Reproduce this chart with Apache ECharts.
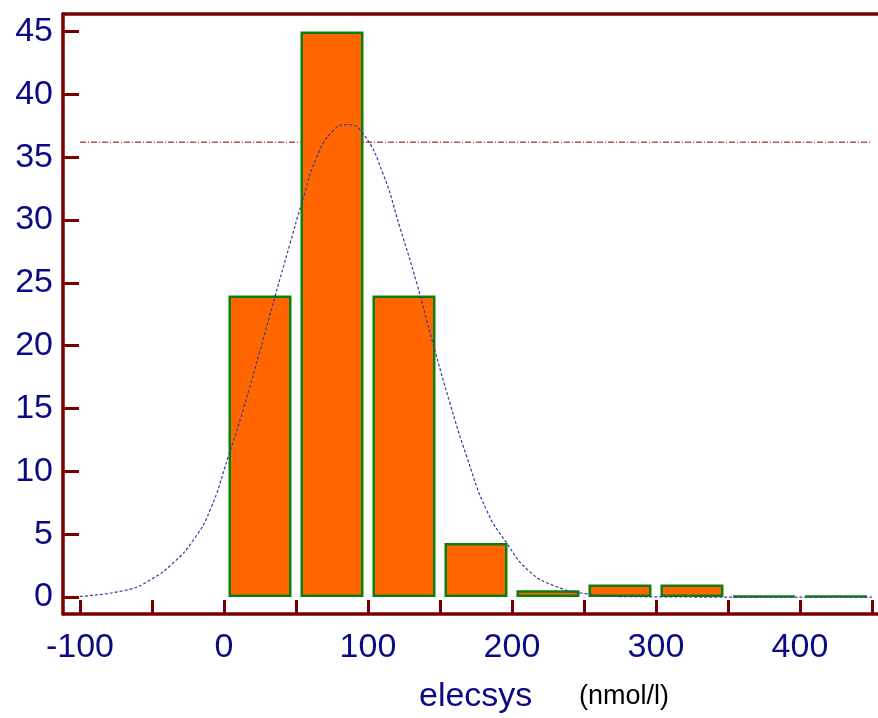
<!DOCTYPE html>
<html>
<head>
<meta charset="utf-8">
<script src="https://cdn.jsdelivr.net/npm/echarts@6/dist/echarts.min.js"></script>
<style>
  html, body { margin: 0; padding: 0; background: #fff; }
  #chart { width: 878px; height: 718px; }
</style>
</head>
<body>
<div id="chart"></div>
<script>
// histogram bins (centre of each 50-wide class) and counts
const binCentres = [25, 75, 125, 175, 225, 275, 325, 375, 425];
const binCounts = [24, 45, 24, 4.3, 0.55, 1.0, 1.0, 0.1, 0.1];

// fitted normal curve
const curveX = [-100, -67.6, -51.4, -35.4, -21.5, -9.7, 2.8, 13.3, 25, 35.4, 45.8, 53.9, 64.4, 75.7, 85.5,
  96.5, 110.4, 122.2, 133.8, 145.1, 157, 168.5, 182.4, 196.3, 212.5, 231, 249, 282, 350, 450];
const curveY = [0.05, 0.56, 1.35, 2.7, 4.5, 6.9, 11.1, 14.9, 19.6, 23.9, 28.1, 31.3, 35.0, 37.1, 37.6,
  36.9, 33.7, 29.4, 25.0, 20.2, 15.4, 11.2, 6.9, 4.3, 2.0, 0.82, 0.3, 0.03, 0, 0];

// horizontal reference line
const refX = [-100, 450];
const refY = 36.2;

// axis ticks / labels
const xTicks = [-100, -50, 0, 50, 100, 150, 200, 250, 300, 350, 400, 450];
const xLabels = [-100, 0, 100, 200, 300, 400];
const yTicks = [0, 5, 10, 15, 20, 25, 30, 35, 40, 45];

const axisColor = "#7a0000";
const textColor = "#0a0a85";
const font = "'Liberation Sans', Arial, sans-serif";

const chart = echarts.init(document.getElementById("chart"));
chart.setOption({
  animation: false,
  grid: { left: 63, right: 0, top: 14, bottom: 104 },
  xAxis: [
    {
      type: "value",
      min: -111.8,
      max: 454.2,
      splitLine: { show: false },
      axisLine: { onZero: false, lineStyle: { color: axisColor, width: 3.5 } },
      axisTick: {
        inside: true,
        length: 14,
        customValues: xTicks,
        lineStyle: { color: axisColor, width: 3 },
      },
      axisLabel: {
        customValues: xLabels,
        margin: 17,
        color: textColor,
        fontSize: 34,
        fontFamily: font,
      },
    },
    {
      type: "value",
      position: "top",
      min: -111.8,
      max: 454.2,
      splitLine: { show: false },
      axisLine: { onZero: false, lineStyle: { color: axisColor, width: 3.5 } },
      axisTick: { show: false },
      axisLabel: { show: false },
    },
  ],
  yAxis: {
    type: "value",
    min: -1.35,
    max: 46.4,
    splitLine: { show: false },
    axisLine: { onZero: false, lineStyle: { color: axisColor, width: 3.5 } },
    axisTick: {
      inside: true,
      length: 16,
      customValues: yTicks,
      lineStyle: { color: axisColor, width: 3 },
    },
    axisLabel: {
      customValues: yTicks,
      margin: 10,
      color: textColor,
      fontSize: 34,
      fontFamily: font,
    },
  },
  series: [
    {
      type: "line",
      data: refX.map((x) => [x, refY]),
      showSymbol: false,
      z: 1,
      lineStyle: { color: "#8b0000", width: 1, type: [6, 2, 1, 2] },
    },
    {
      type: "bar",
      data: binCentres.map((x, i) => [x, binCounts[i]]),
      barWidth: 63,
      z: 2,
      itemStyle: { color: "#ff6600", borderColor: "#0a800a", borderWidth: 2.5 },
    },
    {
      type: "line",
      data: curveX.map((x, i) => [x, curveY[i]]),
      smooth: 0.5,
      showSymbol: false,
      z: 3,
      lineStyle: { color: "#3a3aa0", width: 1.2, type: [3, 2] },
    },
  ],
  graphic: [
    {
      type: "text",
      left: 419,
      top: 680,
      style: { text: "elecsys", fill: textColor, font: "34px " + font },
    },
    {
      type: "text",
      left: 579,
      top: 683,
      style: { text: "(nmol/l)", fill: "#000", font: "27px " + font },
    },
  ],
});
</script>
</body>
</html>
